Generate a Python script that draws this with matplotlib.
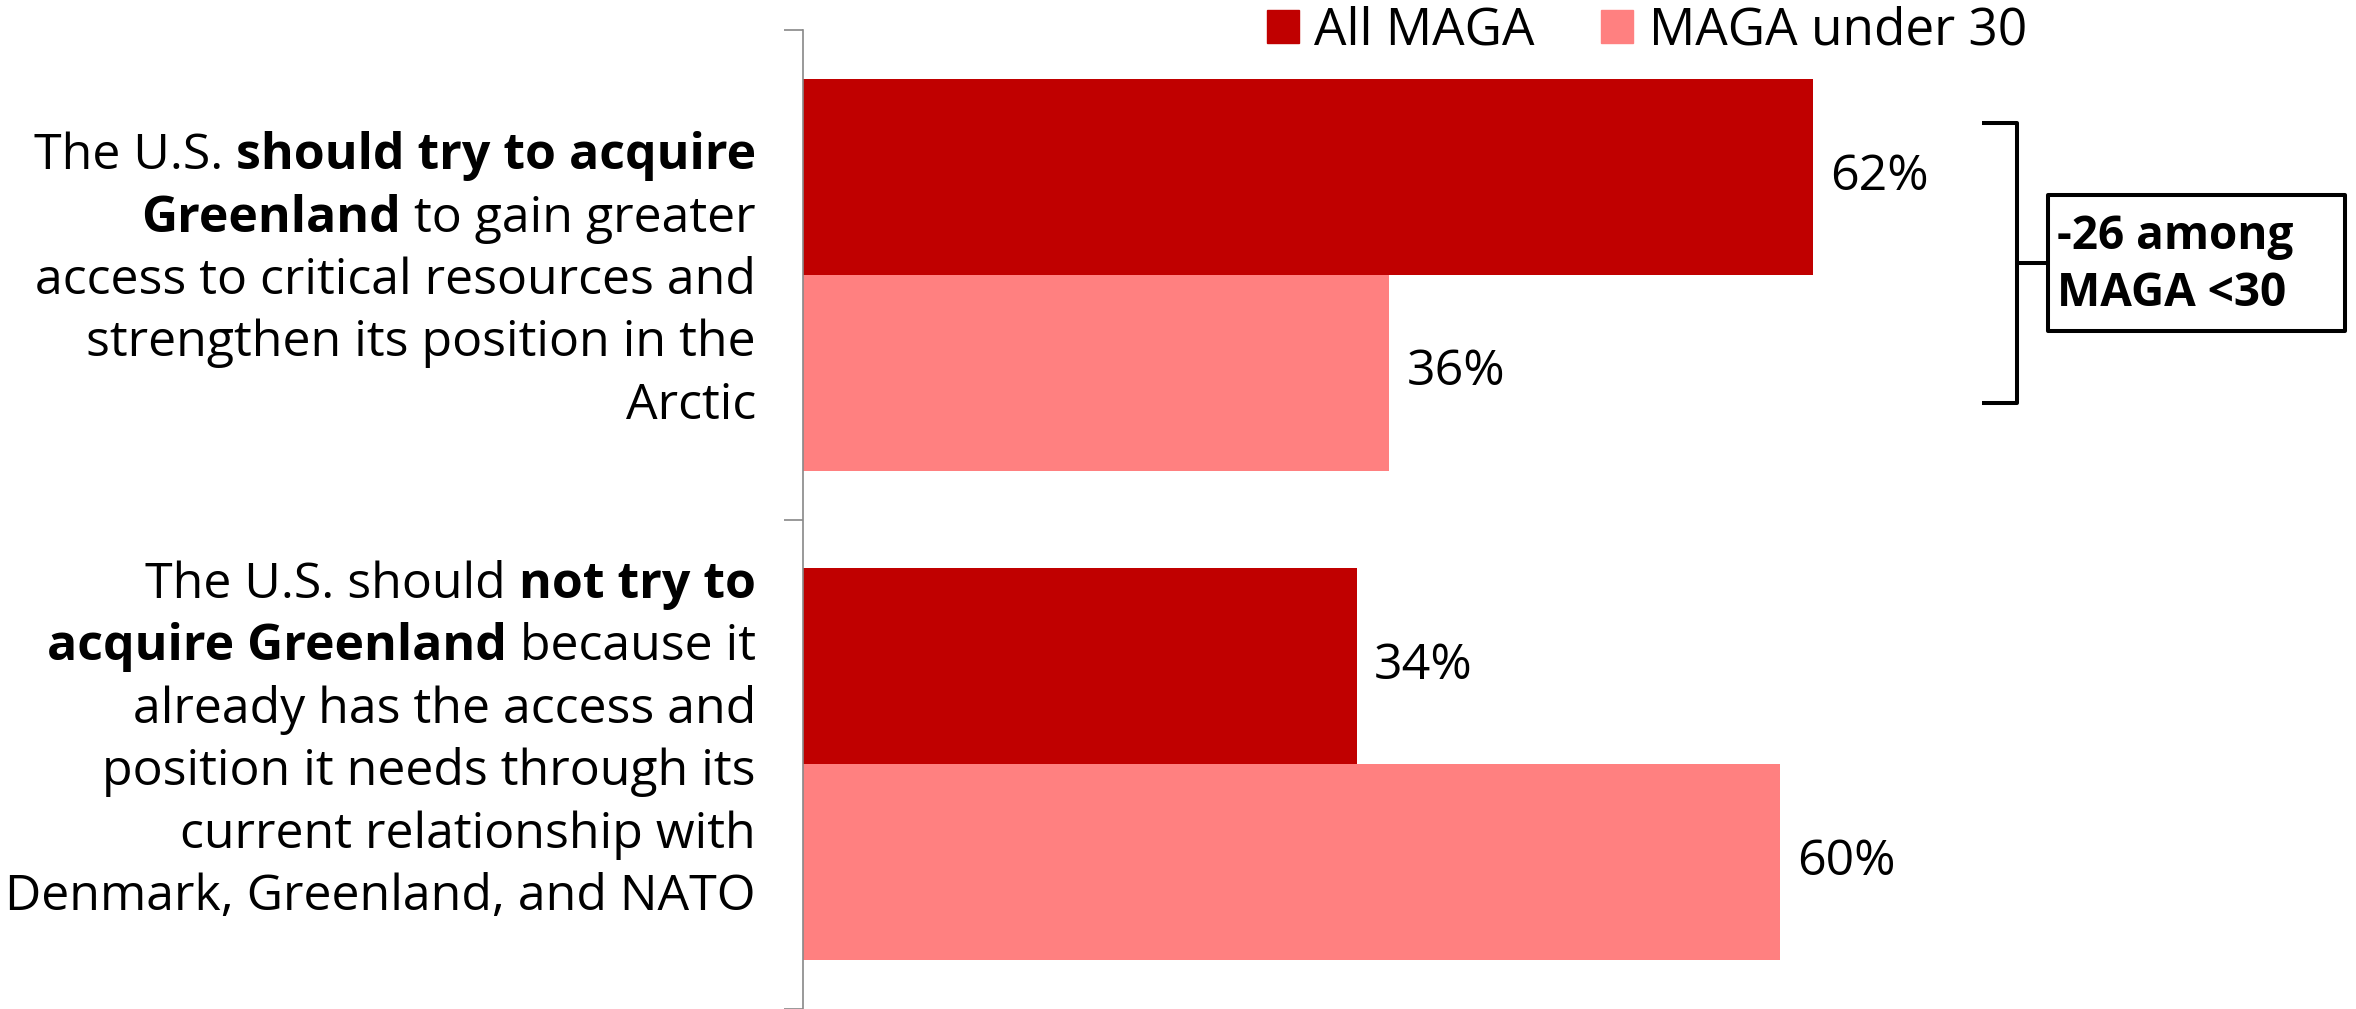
import matplotlib
matplotlib.use("Agg")
import matplotlib.pyplot as plt
from matplotlib.patches import Patch, Rectangle

# Data
groups = ["All MAGA", "MAGA under 30"]
all_maga = [62, 34]
under_30 = [36, 60]
colors = ["#C00000", "#FF8080"]

# category labels, each line is a list of (text, bold) pieces
labels = [
    [
        [("The U.S. ", False), ("should try to acquire", True)],
        [("Greenland", True), (" to gain greater", False)],
        [("access to critical resources and", False)],
        [("strengthen its position in the", False)],
        [("Arctic", False)],
    ],
    [
        [("The U.S. should ", False), ("not try to", True)],
        [("acquire Greenland", True), (" because it", False)],
        [("already has the access and", False)],
        [("position it needs through its", False)],
        [("current relationship with", False)],
        [("Denmark, Greenland, and NATO", False)],
    ],
]
label_centers = [279, 739]  # pixel centre of each label block
callout = "-26 among\nMAGA <30"

W, H = 2356, 1009
FONT = "Open Sans"
FS = 36

plt.rcParams["font.family"] = FONT

fig = plt.figure(figsize=(W / 100, H / 100), dpi=100)
ax = fig.add_axes([803 / W, 0, 1 - 803 / W, 1 - 30 / H])

y = [0, 1]
bh = 0.4
ax.barh([i - bh / 2 for i in y], all_maga, height=bh, color=colors[0])
ax.barh([i + bh / 2 for i in y], under_30, height=bh, color=colors[1])

for i in y:
    ax.text(all_maga[i] + 1.05, i - bh / 2, f"{all_maga[i]}%", va="center", fontsize=FS)
    ax.text(under_30[i] + 1.05, i + bh / 2, f"{under_30[i]}%", va="center", fontsize=FS)

ax.set_xlim(0, (W - 803) / 16.29)
ax.set_ylim(1.498, -0.5)

for s in ["top", "right", "bottom"]:
    ax.spines[s].set_visible(False)
ax.spines["left"].set_color("#888888")
ax.spines["left"].set_linewidth(1.2)
ax.set_xticks([])
ax.set_yticks([-0.5, 0.5, 1.5])
ax.set_yticklabels([])
ax.tick_params(axis="y", length=13.5, width=1.2, color="#888888")

# bracket + callout box
bx = dict(color="black", lw=2.9, clip_on=False, solid_capstyle="butt")
ax.plot([72.4, 74.5, 74.5, 72.4], [-0.31, -0.31, 0.263, 0.263], **bx)
ax.plot([74.5, 76.4], [-0.024, -0.024], **bx)
ax.add_patch(Rectangle((76.4, -0.163), 94.66 - 76.4, 0.277, fill=False,
                       lw=2.9, ec="black", clip_on=False, joinstyle="round"))
ax.text(77.0, -0.02, callout, fontsize=33, fontweight="bold", va="center",
        ha="left", linespacing=1.3)

# legend
handles = [Patch(color=c) for c in colors]
fig.legend(handles, groups, loc="center right", ncol=2, frameon=False,
           bbox_to_anchor=(2027 / W, 1 - 31 / H), fontsize=37,
           handlelength=0.62, handleheight=0.62, handletextpad=0.3,
           columnspacing=1.3, borderpad=0, borderaxespad=0)

# mixed-weight category labels, right aligned
fig.canvas.draw()
r = fig.canvas.get_renderer()
x_right = 756
step = 62.5
for block, yc in zip(labels, label_centers):
    n = len(block)
    for k, line in enumerate(block):
        base = yc + (k - (n - 1) / 2) * step + 15
        x = x_right
        for txt, bold in reversed(line):
            t = fig.text(x / W, 1 - base / H, txt, ha="right", va="baseline",
                         fontsize=FS, fontweight="bold" if bold else "normal")
            x -= t.get_window_extent(r).width

fig.savefig("out.png", dpi=100)
